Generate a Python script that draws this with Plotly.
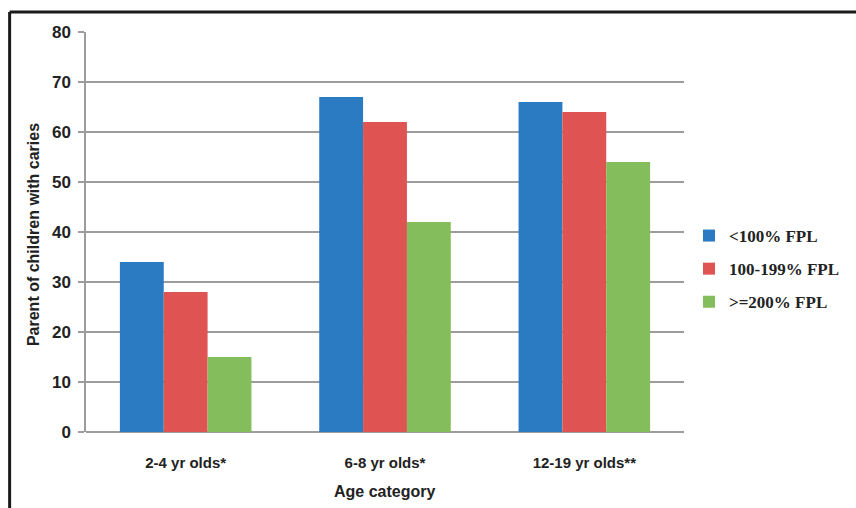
import plotly.graph_objects as go

# Age groups and share of children with caries by family income (% of FPL)
categories = ["2-4 yr olds*", "6-8 yr olds*", "12-19 yr olds**"]
series_names = ["<100% FPL", "100-199% FPL", ">=200% FPL"]
below_100 = [34, 67, 66]
from_100_to_199 = [28, 62, 64]
above_200 = [15, 42, 54]
y_ticks = [0, 10, 20, 30, 40, 50, 60, 70, 80]

colors = ["#2B7BC3", "#DF5353", "#84BD5B"]
values = [below_100, from_100_to_199, above_200]

fig = go.Figure()
for name, vals, col in zip(series_names, values, colors):
    fig.add_trace(go.Bar(
        x=categories, y=vals, name=name,
        marker=dict(color=col, line=dict(width=0)),
        legendgroup=name,
    ))

W, H = 856, 508
L, R, T, B = 86, 171, 32, 76
pw, ph = W - L - R, H - T - B


def px_x(p):
    return (p - L) / pw


def px_y(p):
    return (H - B - p) / ph


sans = "Liberation Sans, Arial, sans-serif"

fig.update_layout(
    width=W, height=H,
    margin=dict(l=L, r=R, t=T, b=B),
    paper_bgcolor="white", plot_bgcolor="white",
    barmode="group", bargap=0.34, bargroupgap=0,
    font=dict(family=sans, color="#222222"),
    xaxis=dict(
        showgrid=False, showline=False, ticks="",
        tickfont=dict(family=sans, size=15, color="#222222", weight="bold"),
        ticklabelstandoff=20,
    ),
    yaxis=dict(
        range=[0, 80], tickvals=y_ticks,
        showgrid=True, gridcolor="#9C9C9C", gridwidth=1.5,
        showline=True, linecolor="#9C9C9C", linewidth=1.5,
        ticks="outside", ticklen=6, tickcolor="#9C9C9C", tickwidth=1.5,
        tickfont=dict(family=sans, size=17, color="#222222", weight="bold"),
        zeroline=True, zerolinecolor="#9C9C9C", zerolinewidth=1.5,
        ticklabelstandoff=4,
    ),
    legend=dict(
        x=px_x(689), y=px_y(218), xanchor="left", yanchor="top",
        font=dict(family="Liberation Serif, Times New Roman, serif", size=17, color="#222222", weight="bold"),
        tracegroupgap=8, traceorder="grouped",
        bgcolor="rgba(0,0,0,0)",
    ),
    showlegend=True,
    annotations=[
        dict(text="Parent of children with caries", x=px_x(33), y=px_y(235),
             xref="paper", yref="paper", showarrow=False, textangle=-90,
             font=dict(family=sans, size=16, color="#222222", weight="bold"),
             xanchor="center", yanchor="middle"),
        dict(text="Age category", x=px_x(385), y=px_y(492),
             xref="paper", yref="paper", showarrow=False,
             font=dict(family=sans, size=16, color="#222222", weight="bold"),
             xanchor="center", yanchor="middle"),
    ],
    shapes=[
        dict(type="line", xref="paper", yref="paper",
             x0=px_x(9.5), x1=px_x(870), y0=px_y(12), y1=px_y(12),
             line=dict(color="#1A1A1A", width=3)),
        dict(type="line", xref="paper", yref="paper",
             x0=px_x(9.5), x1=px_x(9.5), y0=px_y(12), y1=px_y(520),
             line=dict(color="#1A1A1A", width=3)),
    ],
)

fig.write_html("out.html")
